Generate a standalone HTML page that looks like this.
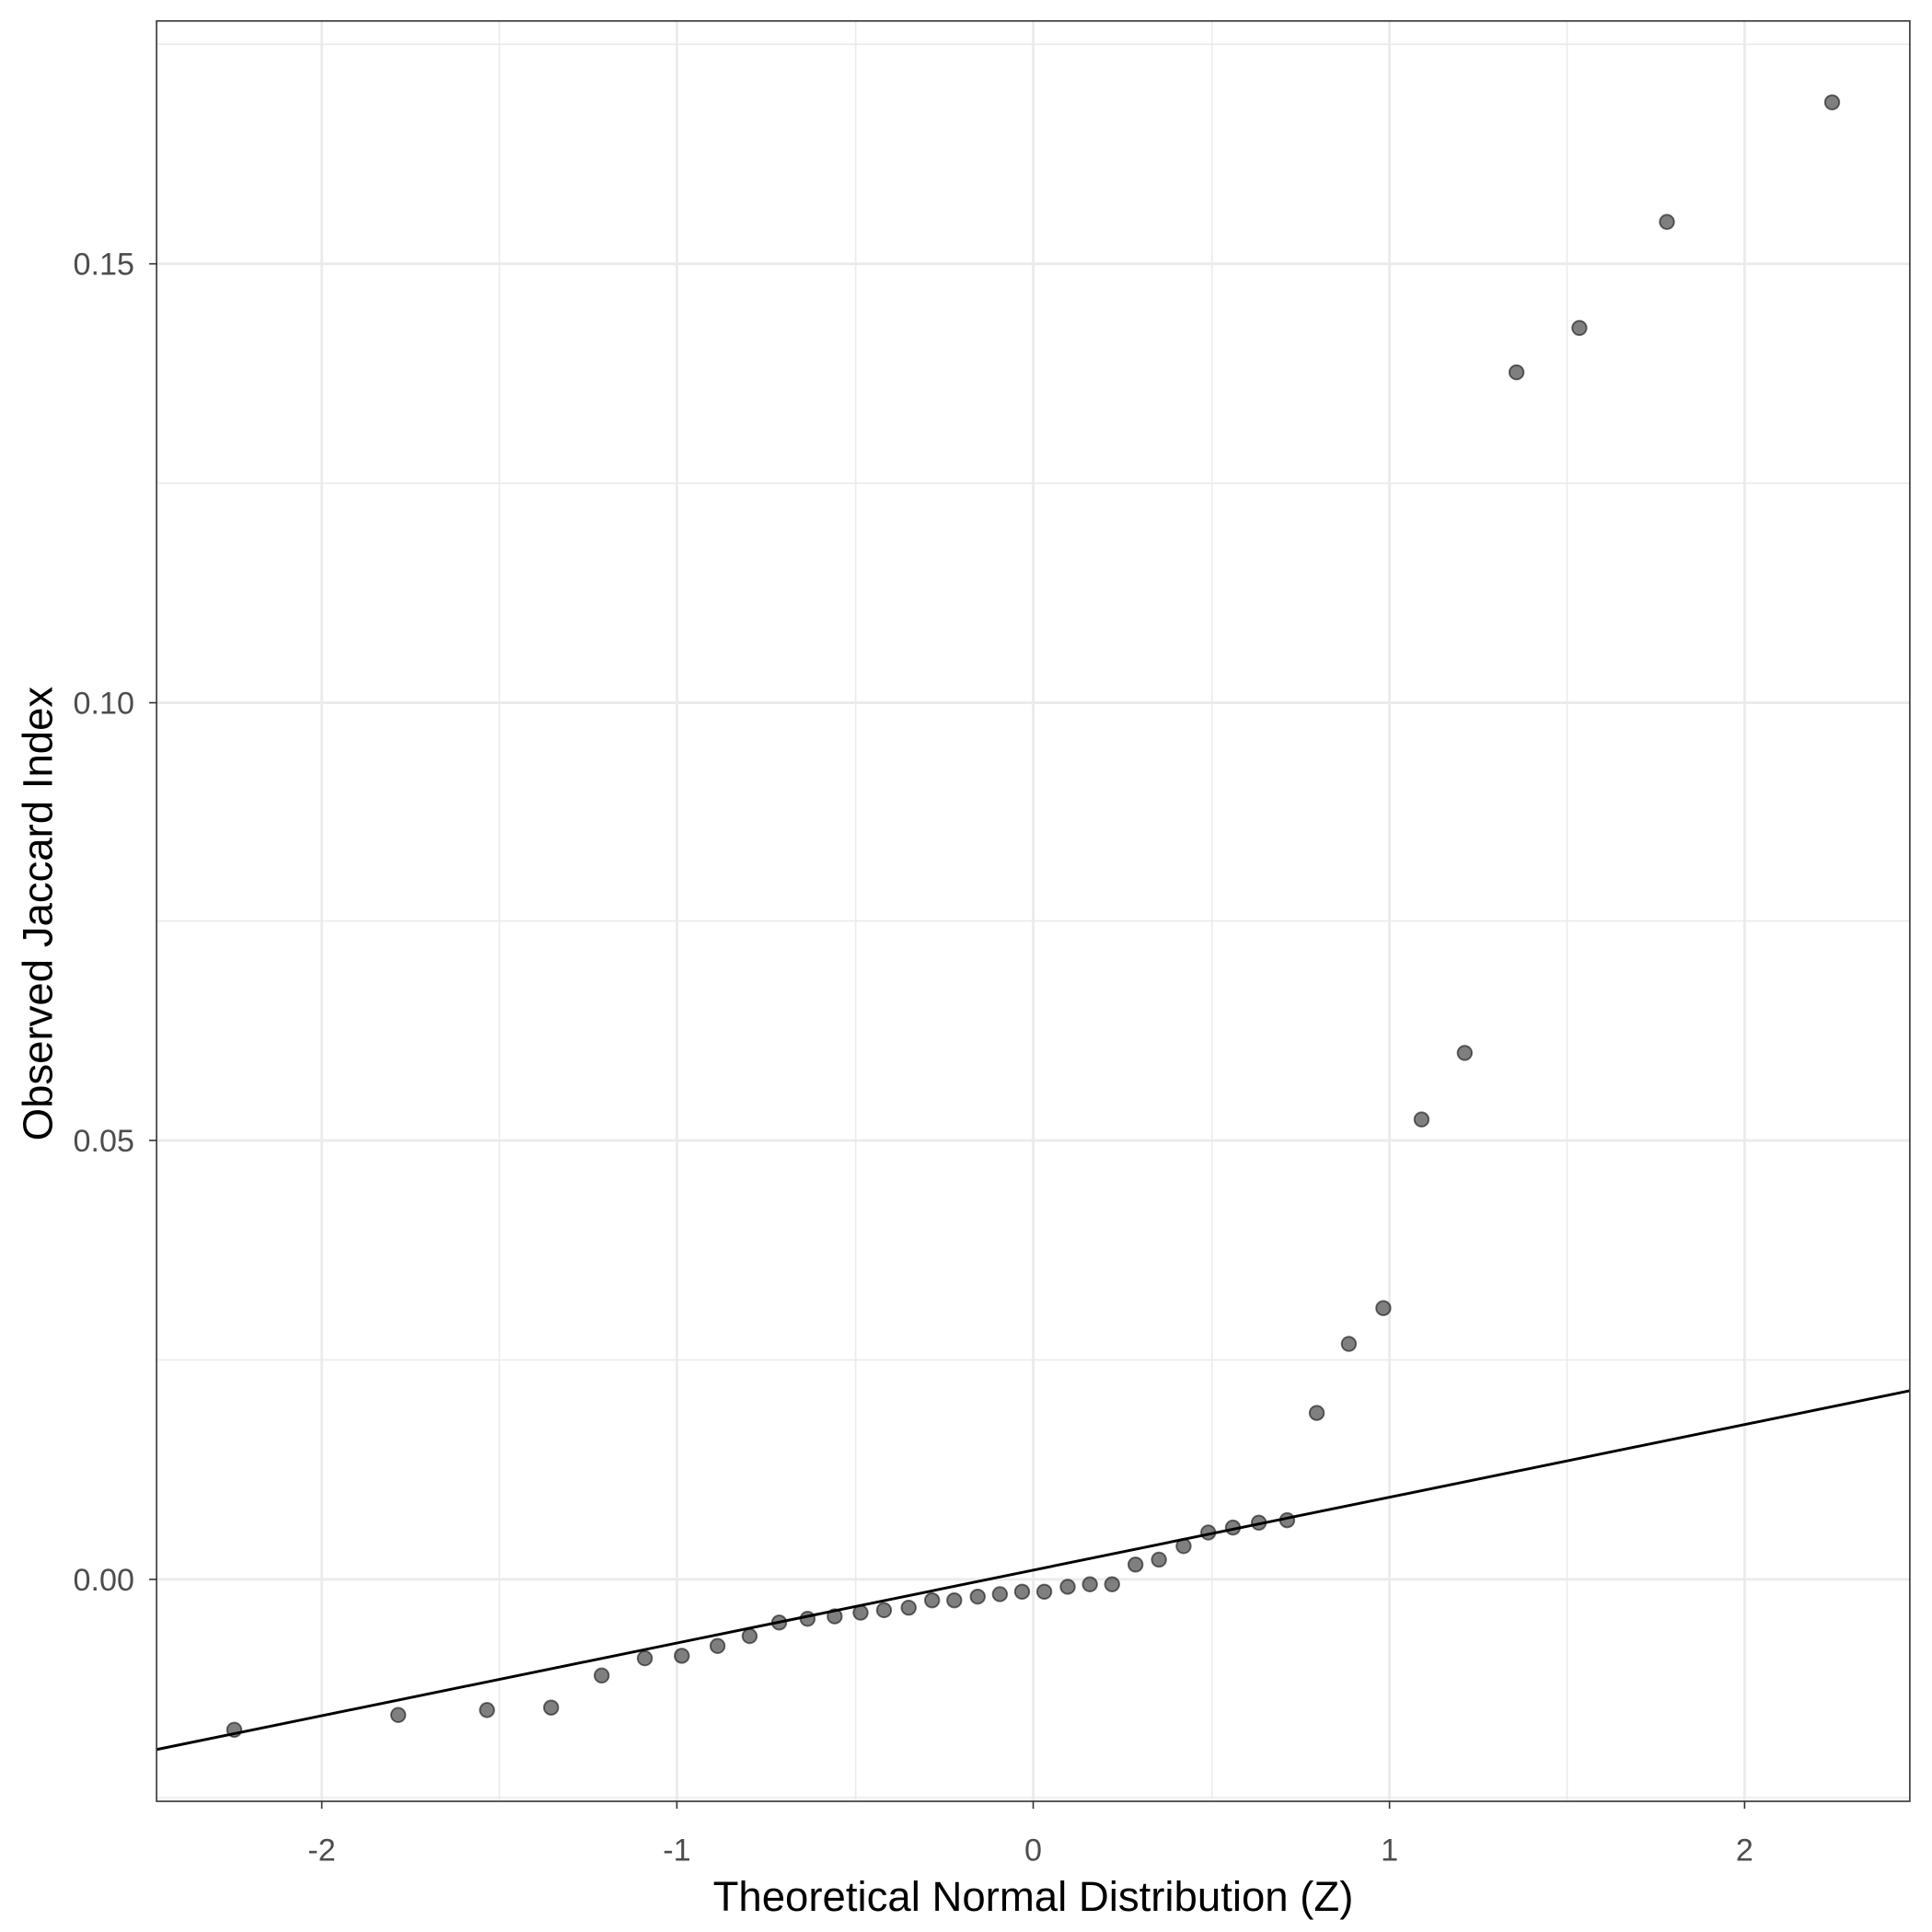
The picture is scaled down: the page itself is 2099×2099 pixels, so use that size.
<!DOCTYPE html>
<html><head><meta charset="utf-8"><style>html,body{margin:0;padding:0;background:#fff}svg{display:block}</style></head>
<body>
<svg width="2099" height="2099" viewBox="0 0 1567 1567" xmlns="http://www.w3.org/2000/svg" font-family="Liberation Sans, sans-serif">
<rect width="1567" height="1567" fill="#fff"/>
<g stroke="#ebebeb" stroke-width="1.2">
<line x1="127" x2="1549" y1="36" y2="36"/><line x1="127" x2="1549" y1="392" y2="392"/><line x1="127" x2="1549" y1="747" y2="747"/><line x1="127" x2="1549" y1="1103" y2="1103"/><line x1="127" x2="1549" y1="1458" y2="1458"/>
<line y1="17" y2="1461" x1="405" x2="405"/><line y1="17" y2="1461" x1="694" x2="694"/><line y1="17" y2="1461" x1="983" x2="983"/><line y1="17" y2="1461" x1="1271" x2="1271"/>
</g>
<g stroke="#ebebeb" stroke-width="2.2">
<line x1="127" x2="1549" y1="214" y2="214"/><line x1="127" x2="1549" y1="570" y2="570"/><line x1="127" x2="1549" y1="925" y2="925"/><line x1="127" x2="1549" y1="1281" y2="1281"/>
<line y1="17" y2="1461" x1="261" x2="261"/><line y1="17" y2="1461" x1="549" x2="549"/><line y1="17" y2="1461" x1="838" x2="838"/><line y1="17" y2="1461" x1="1127" x2="1127"/><line y1="17" y2="1461" x1="1415" x2="1415"/>
</g>
<g fill="#000" fill-opacity="0.5" stroke="#000" stroke-opacity="0.55" stroke-width="1.4">
<circle cx="190" cy="1403" r="5.8"/><circle cx="323" cy="1391" r="5.8"/><circle cx="395" cy="1387" r="5.8"/><circle cx="447" cy="1385" r="5.8"/><circle cx="488" cy="1359" r="5.8"/><circle cx="523" cy="1345" r="5.8"/><circle cx="553" cy="1343" r="5.8"/><circle cx="582" cy="1335" r="5.8"/><circle cx="608" cy="1327" r="5.8"/><circle cx="632" cy="1316" r="5.8"/><circle cx="655" cy="1313" r="5.8"/><circle cx="677" cy="1311" r="5.8"/><circle cx="698" cy="1308" r="5.8"/><circle cx="717" cy="1306" r="5.8"/><circle cx="737" cy="1304" r="5.8"/><circle cx="756" cy="1298" r="5.8"/><circle cx="774" cy="1298" r="5.8"/><circle cx="793" cy="1295" r="5.8"/><circle cx="811" cy="1293" r="5.8"/><circle cx="829" cy="1291" r="5.8"/><circle cx="847" cy="1291" r="5.8"/><circle cx="866" cy="1287" r="5.8"/><circle cx="884" cy="1285" r="5.8"/><circle cx="902" cy="1285" r="5.8"/><circle cx="921" cy="1269" r="5.8"/><circle cx="940" cy="1265" r="5.8"/><circle cx="960" cy="1254" r="5.8"/><circle cx="980" cy="1243" r="5.8"/><circle cx="1000" cy="1239" r="5.8"/><circle cx="1021" cy="1235" r="5.8"/><circle cx="1044" cy="1233" r="5.8"/><circle cx="1068" cy="1146" r="5.8"/><circle cx="1094" cy="1090" r="5.8"/><circle cx="1122" cy="1061" r="5.8"/><circle cx="1153" cy="908" r="5.8"/><circle cx="1188" cy="854" r="5.8"/><circle cx="1230" cy="302" r="5.8"/><circle cx="1281" cy="266" r="5.8"/><circle cx="1352" cy="180" r="5.8"/><circle cx="1486" cy="83" r="5.8"/>
</g>
<line x1="127" y1="1419" x2="1549" y2="1128" stroke="#000" stroke-width="2.2"/>
<rect x="127" y="17" width="1422" height="1444" fill="none" stroke="#333" stroke-width="1.2"/>
<g stroke="#333" stroke-width="1.2">
<line x1="121" x2="127" y1="214" y2="214"/><line x1="121" x2="127" y1="570" y2="570"/><line x1="121" x2="127" y1="925" y2="925"/><line x1="121" x2="127" y1="1281" y2="1281"/>
<line y1="1461" y2="1467" x1="261" x2="261"/><line y1="1461" y2="1467" x1="549" x2="549"/><line y1="1461" y2="1467" x1="838" x2="838"/><line y1="1461" y2="1467" x1="1127" x2="1127"/><line y1="1461" y2="1467" x1="1415" x2="1415"/>
</g>
<g fill="#4d4d4d" font-size="25.5" text-anchor="end">
<text x="109" y="223">0.15</text><text x="109" y="579">0.10</text><text x="109" y="934">0.05</text><text x="109" y="1290">0.00</text>
</g>
<g fill="#4d4d4d" font-size="25.5" text-anchor="middle">
<text x="261" y="1509">-2</text><text x="549" y="1509">-1</text><text x="838" y="1509">0</text><text x="1127" y="1509">1</text><text x="1415" y="1509">2</text>
</g>
<text x="838" y="1550" font-size="34" text-anchor="middle" fill="#000">Theoretical Normal Distribution (Z)</text>
<text transform="translate(42,741) rotate(-90)" font-size="34" text-anchor="middle" fill="#000">Observed Jaccard Index</text>
</svg>
</body></html>
